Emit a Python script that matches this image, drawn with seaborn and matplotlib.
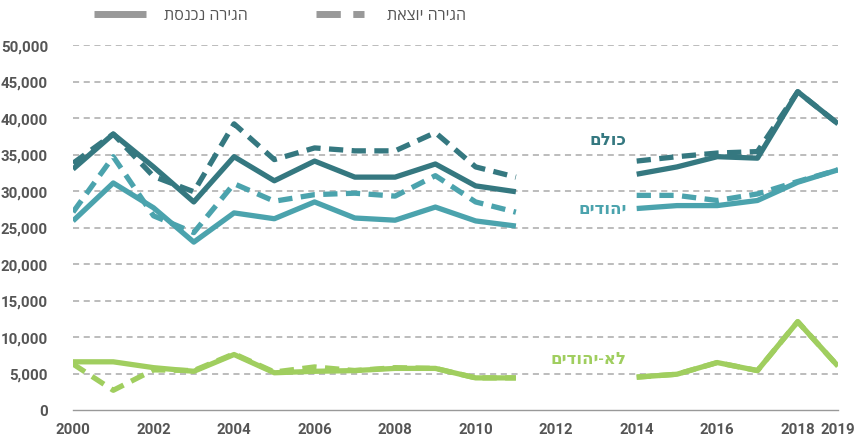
import numpy as np
import pandas as pd
import matplotlib
matplotlib.use("Agg")
import matplotlib.pyplot as plt
import seaborn as sns

years = list(range(2000, 2020))
nan = np.nan
# immigration (solid) / emigration (dashed)
total_in = [33000, 37800, 33300, 28500, 34700, 31400, 34100, 31900, 31900, 33700, 30700, 29900,
            nan, nan, 32300, 33300, 34700, 34500, 43600, 39200]
total_out = [33800, 37800, 32000, 29900, 39200, 34300, 35900, 35500, 35500, 38000, 33300, 31900,
             nan, nan, 34100, 34700, 35200, 35400, 43600, 39200]
jews_in = [25900, 31100, 27700, 23000, 27000, 26200, 28500, 26300, 26000, 27800, 25900, 25200,
           nan, nan, 27600, 28000, 28000, 28700, 31200, 32900]
jews_out = [27100, 34700, 26600, 24300, 31000, 28600, 29500, 29700, 29300, 32100, 28500, 27100,
            nan, nan, 29400, 29400, 28700, 29600, 31300, 32900]
nonj_in = [6600, 6600, 5800, 5300, 7600, 5100, 5300, 5400, 5700, 5700, 4400, 4400,
           nan, nan, 4500, 4900, 6500, 5400, 12100, 6000]
nonj_out = [6300, 2700, 5500, 5400, 7700, 5200, 5900, 5400, 5800, 5700, 4400, 4400,
            nan, nan, 4500, 4900, 6500, 5400, 12100, 6000]

x_ticks = [2000, 2002, 2004, 2006, 2008, 2010, 2012, 2014, 2016, 2018, 2019]
y_ticks = list(range(0, 50001, 5000))
label_total = "כולם"
label_jews = "יהודים"
label_nonj = "לא-יהודים"
legend_in = "הגירה נכנסת"
legend_out = "הגירה יוצאת"

def vis(s):
    return s[::-1]

C_TOTAL = "#357880"
C_JEWS = "#4ba3ad"
C_NONJ = "#a0ce5f"
GRID = "#aaaaaa"
TXT = "#555555"
HEB = ["Open Sans", "DejaVu Sans"]

sns.set_style("white")
plt.rcParams["font.family"] = ["Roboto", "DejaVu Sans"]

fig = plt.figure(figsize=(8.58, 4.39), dpi=100)
ax = fig.add_axes([73 / 858, 28 / 439, (838 - 73) / 858, (411 - 46) / 439])

LW = 3.8
DASH = (0, (2.7, 1.6))

def draw(vals, color, dashed):
    df = pd.DataFrame({"year": years, "value": vals})
    df["seg"] = df["value"].isna().cumsum()
    df = df.dropna()
    for _, part in df.groupby("seg"):
        kw = dict(linestyle=DASH) if dashed else {}
        sns.lineplot(data=part, x="year", y="value", ax=ax, color=color, lw=LW,
                     estimator=None, solid_capstyle="butt", dash_capstyle="butt", **kw)

draw(nonj_out, C_NONJ, True)
draw(nonj_in, C_NONJ, False)
draw(jews_out, C_JEWS, True)
draw(jews_in, C_JEWS, False)
draw(total_out, C_TOTAL, True)
draw(total_in, C_TOTAL, False)

ax.set_xlim(2000, 2019)
ax.set_ylim(0, 50000)
ax.set_xlabel("")
ax.set_ylabel("")
for s in ["top", "right", "left"]:
    ax.spines[s].set_visible(False)
ax.spines["bottom"].set_color("#999999")
ax.spines["bottom"].set_linewidth(1.0)

for v in y_ticks[1:]:
    ax.axhline(v, color=GRID, lw=1.1, linestyle=(0, (4, 3)), zorder=0)

ax.set_yticks(y_ticks)
ax.set_yticklabels([f"{v:,}" for v in y_ticks])
ax.set_xticks(x_ticks)
ax.set_xticklabels([str(v) for v in x_ticks])
ax.set_xticks(years, minor=True)
ax.tick_params(axis="y", length=0, pad=18, labelsize=10.8, labelcolor=TXT)
ax.tick_params(axis="x", which="both", length=6, width=1, color="#999999",
               direction="out", labelsize=10.8, labelcolor=TXT, pad=3)
for t in ax.get_xticklabels() + ax.get_yticklabels():
    t.set_fontweight("bold")

ax.text(2013.75, 37000, vis(label_total), color=C_TOTAL, fontsize=12, ha="right",
        va="center", family=HEB, fontweight="semibold")
ax.text(2013.75, 27600, vis(label_jews), color=C_JEWS, fontsize=12, ha="right",
        va="center", family=HEB, fontweight="semibold")
ax.text(2013.75, 7000, vis(label_nonj), color=C_NONJ, fontsize=12, ha="right",
        va="center", family=HEB, fontweight="semibold")

# legend
fig.lines.append(plt.Line2D([94 / 858, 146 / 858], [1 - 15 / 439] * 2, transform=fig.transFigure,
                            color="#999999", lw=5, solid_capstyle="butt"))
fig.text(248 / 858, 1 - 16 / 439, vis(legend_in), ha="right", va="center", fontsize=11.5,
         color=TXT, family=HEB, fontweight="normal")
fig.lines.append(plt.Line2D([316 / 858, 364 / 858], [1 - 15 / 439] * 2, transform=fig.transFigure,
                            color="#999999", lw=5, linestyle=(0, (3.5, 1.8)), dash_capstyle="butt"))
fig.text(466 / 858, 1 - 16 / 439, vis(legend_out), ha="right", va="center", fontsize=11.5,
         color=TXT, family=HEB, fontweight="normal")

fig.savefig("out.png", dpi=100)
